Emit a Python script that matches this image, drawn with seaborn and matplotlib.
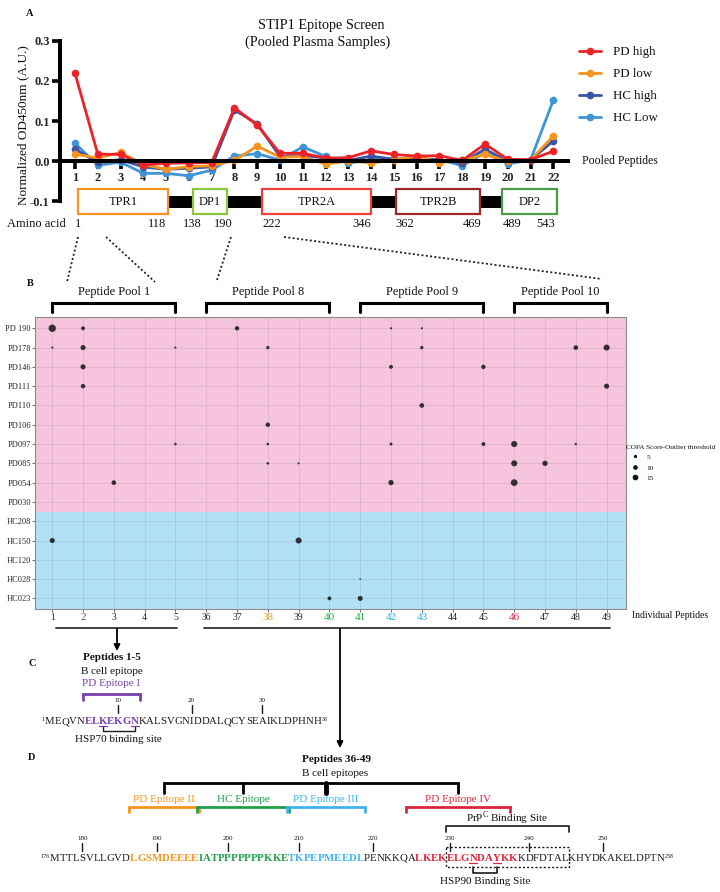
import numpy as np
import pandas as pd
import matplotlib
matplotlib.use("Agg")
import matplotlib.pyplot as plt
import matplotlib.transforms as mtransforms
from matplotlib.lines import Line2D
from matplotlib.patches import Rectangle
from matplotlib.font_manager import FontProperties, findfont
from matplotlib.ft2font import FT2Font
import seaborn as sns

try:
    from matplotlib.ft2font import LoadFlags
    NO_SCALE = LoadFlags.NO_SCALE
except ImportError:
    from matplotlib.ft2font import LOAD_NO_SCALE as NO_SCALE

sns.set_theme(style="ticks")
plt.rcParams['font.family'] = ['Liberation Serif', 'DejaVu Serif']
plt.rcParams['mathtext.fontset'] = 'custom'
plt.rcParams['mathtext.rm'] = 'Liberation Serif'
plt.rcParams['text.color'] = '#111111'

# ---------------- data: panel A (pooled peptides) ----------------
peptides_a = list(range(1, 23))
pd_high = [0.219, 0.018, 0.017, -0.009, -0.005, -0.004, -0.003, 0.133, 0.090, 0.020, 0.020,
           0.008, 0.009, 0.026, 0.017, 0.013, 0.014, 0.002, 0.043, 0.005, 0.004, 0.025]
pd_low = [0.018, 0.008, 0.022, -0.008, -0.020, -0.013, -0.011, 0.002, 0.038, 0.010, 0.012,
          -0.007, 0.001, -0.004, 0.003, 0.013, -0.003, 0.002, 0.017, 0.000, 0.003, 0.063]
hc_high = [0.030, -0.002, 0.004, -0.014, -0.020, -0.017, -0.014, 0.128, 0.093, 0.012, 0.015,
           0.008, 0.002, 0.013, 0.005, 0.008, 0.003, -0.003, 0.030, 0.000, 0.003, 0.051]
hc_low = [0.045, -0.010, -0.002, -0.030, -0.030, -0.036, -0.022, 0.013, 0.019, 0.003, 0.036,
          0.012, -0.005, 0.005, 0.003, 0.005, 0.005, -0.011, 0.021, -0.006, 0.003, 0.152]
groups_a = ['PD high', 'PD low', 'HC high', 'HC Low']
yticks_a = [-0.1, 0.0, 0.1, 0.2, 0.3]

domain_names = ['TPR1', 'DP1', 'TPR2A', 'TPR2B', 'DP2']
domain_colors = ['#f7931e', '#8dc63f', '#ef4136', '#a0262b', '#4a9d45']
aa_labels = ['1', '118', '138', '190', '222', '346', '362', '469', '489', '543']

# ---------------- data: panel B (individual peptides) ----------------
samples = ['PD 190', 'PD178', 'PD146', 'PD111', 'PD110', 'PD106', 'PD097', 'PD085', 'PD054',
           'PD030', 'HC208', 'HC150', 'HC120', 'HC028', 'HC023']
peptides_b = [1, 2, 3, 4, 5, 36, 37, 38, 39, 40, 41, 42, 43, 44, 45, 46, 47, 48, 49]
pools = ['Peptide Pool 1', 'Peptide Pool 8', 'Peptide Pool 9', 'Peptide Pool 10']
pool_members = [(1, 5), (36, 40), (41, 45), (46, 49)]

dot_sample = ['PD 190'] * 5 + ['PD178'] * 7 + ['PD146'] * 3 + ['PD111'] * 2 + ['PD110', 'PD106'] \
    + ['PD097'] * 6 + ['PD085'] * 4 + ['PD054'] * 3 + ['HC150'] * 2 + ['HC028'] + ['HC023'] * 2
dot_peptide = [1, 2, 37, 42, 43,
               1, 2, 5, 38, 43, 48, 49,
               2, 42, 45,
               2, 49,
               43, 38,
               5, 38, 42, 45, 46, 48,
               38, 39, 46, 47,
               3, 42, 46,
               1, 39,
               41,
               40, 41]
dot_score = [25, 7, 9, 2, 2,
             2, 12, 2, 5, 5, 10, 17,
             12, 7, 9,
             9, 12,
             10, 9,
             3, 3, 4, 7, 17, 2.5,
             3, 2, 17, 13,
             10, 13, 21,
             12, 17,
             1.3,
             7, 12]
legend_scores = [5, 10, 15]
tick_colors = {2: '#7b3fae', 38: '#f7941d', 40: '#22a94a', 41: '#22a94a',
               42: '#29abe2', 43: '#29abe2', 46: '#d7263d'}

# ---------------- data: panels C and D (sequences) ----------------
purple, orange, green, blue, red, ink = '#7b3fae', '#f7941d', '#1f9e49', '#3fb4ec', '#d9263a', '#1a1a1a'
seq_c = [("MEQVN", ink, 'normal'), ("ELKEKGN", purple, 'bold'),
         ("KALSVGNIDDALQCYSEAIKLDPHNH", ink, 'normal')]
seq_d = [("MTTLSVLLGVD", ink, 'normal'), ("LGSMDEEEE", orange, 'bold'),
         ("IATPPPPPPPKKE", green, 'bold'), ("TKPEPMEEDL", blue, 'bold'),
         ("PENKKQA", ink, 'normal'), ("LKEKELGNDAYKK", red, 'bold'),
         ("KDFDTALKHYDKAKELDPTN", ink, 'normal')]
epitopes_d = [('PD Epitope II', orange, 187, 195), ('HC Epitope', green, 196, 208),
              ('PD Epitope III', blue, 209, 218), ('PD Epitope IV', red, 225, 237)]

# ---------------- figure ----------------
W, H = 720, 892
fig = plt.figure(figsize=(7.2, 8.92), dpi=100)


def rect(x0, y0, x1, y1):
    return [x0 / W, 1 - y1 / H, (x1 - x0) / W, (y1 - y0) / H]


ax_a = fig.add_axes(rect(60, 40.7, 568, 201.5))
ax_b = fig.add_axes(rect(35, 317, 626, 609))
ov = fig.add_axes([0, 0, 1, 1], zorder=5)
ov.set_xlim(0, W)
ov.set_ylim(H, 0)
ov.axis('off')
ov.patch.set_visible(False)

# ---------------- panel A ----------------
dfa = pd.DataFrame({'peptide': peptides_a * 4,
                    'value': pd_high + pd_low + hc_high + hc_low,
                    'group': [g for g in groups_a for _ in peptides_a]})
pal_a = {'PD high': '#ec2227', 'PD low': '#f7941d', 'HC high': '#3a53a4', 'HC Low': '#3f95d6'}
sns.lineplot(data=dfa, x='peptide', y='value', hue='group',
             hue_order=['HC Low', 'HC high', 'PD low', 'PD high'], palette=pal_a,
             marker='o', markersize=5.5, markeredgewidth=0, linewidth=2.0,
             errorbar=None, legend=False, ax=ax_a)
ax_a.set_xlim(0.3415, 22.645)
ax_a.set_ylim(-0.1, 0.3)
ax_a.set_facecolor('none')
for s in ['top', 'right']:
    ax_a.spines[s].set_visible(False)
ax_a.spines['bottom'].set_position(('data', 0))
for s in ['left', 'bottom']:
    ax_a.spines[s].set_linewidth(2.9)
    ax_a.spines[s].set_color('black')
ax_a.set_xticks(peptides_a)
ax_a.set_xticklabels([str(p) for p in peptides_a], fontweight='bold', fontsize=9)
ax_a.set_yticks(yticks_a)
ax_a.set_yticklabels([f"{v:.1f}" for v in yticks_a], fontweight='bold', fontsize=9)
ax_a.tick_params(axis='both', direction='out', length=5.5, width=2.6, color='black', pad=2)
ax_a.set_xlabel('')
ax_a.set_ylabel('')

handles = [Line2D([0], [0], color=pal_a[g], marker='o', markersize=5.5, lw=2, mew=0) for g in groups_a]
ax_a.legend(handles, groups_a, loc='upper left', bbox_to_anchor=(579 / W, 1 - 46 / H),
            bbox_transform=fig.transFigure, frameon=False, fontsize=9.3, handlelength=1.7,
            handletextpad=0.9, labelspacing=0.78, borderpad=0, borderaxespad=0)

ov.text(321, 25, "STIP1 Epitope Screen", ha='center', va='center', fontsize=10.3)
ov.text(318, 42, "(Pooled Plasma Samples)", ha='center', va='center', fontsize=10.3)
ov.text(23, 125, "Normalized OD450nm (A.U.)", rotation=90, ha='center', va='center', fontsize=9.5)
ov.text(582, 161, "Pooled Peptides", ha='left', va='center', fontsize=8.5)
ov.text(30, 13, "A", ha='center', va='center', fontsize=7.5, weight='bold')

# domain map
box_px = [(78, 168), (193, 227), (262, 371), (396, 480), (502, 557)]
ov.add_patch(Rectangle((168, 196), 502 - 168, 12, color='black', lw=0, zorder=1))
for name, col, (x0, x1) in zip(domain_names, domain_colors, box_px):
    ov.add_patch(Rectangle((x0, 189), x1 - x0, 25, facecolor='white', edgecolor=col, lw=1.6, zorder=2))
    ov.text((x0 + x1) / 2, 202, name, ha='center', va='center', fontsize=9, zorder=3)
ov.text(7, 224, "Amino acid", ha='left', va='center', fontsize=9)
aa_px = [78, 157, 192, 223, 272, 362, 405, 472, 512, 546]
for lab, x in zip(aa_labels, aa_px):
    ov.text(x, 224, lab, ha='center', va='center', fontsize=9)

for (p0, p1) in [((78, 237), (67, 282)), ((106, 237), (155, 282)),
                 ((231, 237), (217, 280)), ((284, 237), (602, 279))]:
    ov.plot([p0[0], p1[0]], [p0[1], p1[1]], color='#222222', lw=1.3, ls=(0, (1.1, 1.3)))

# ---------------- panel B ----------------
n_pd = sum(s.startswith('PD') for s in samples)
dfb = pd.DataFrame({'xpos': [peptides_b.index(p) for p in dot_peptide],
                    'ypos': [samples.index(s) for s in dot_sample],
                    'score': dot_score})
ax_b.axhspan(-1, n_pd - 0.5, color='#f6c4dc', zorder=0, lw=0)
ax_b.axhspan(n_pd - 0.5, len(samples), color='#b2e1f7', zorder=0, lw=0)
size_norm = (0, 30)
size_range = (0, 33.6)
sns.scatterplot(data=dfb, x='xpos', y='ypos', size='score', sizes=size_range, size_norm=size_norm,
                color='#141414', alpha=0.85, linewidth=0, legend=False, ax=ax_b, zorder=3)
ax_b.set_xlim(-0.56, 18.63)
ax_b.set_ylim(14.55, -0.585)
ax_b.set_xticks(range(len(peptides_b)))
ax_b.set_xticklabels([str(p) for p in peptides_b], fontsize=7)
for lbl, p in zip(ax_b.get_xticklabels(), peptides_b):
    if p in tick_colors:
        lbl.set_color(tick_colors[p])
        lbl.set_fontsize(8)
ax_b.set_yticks(range(len(samples)))
ax_b.set_yticklabels(samples, fontsize=6)
ax_b.tick_params(length=2, width=0.6, color='#555555', pad=1)
ax_b.grid(True, color='#8a8a8a', alpha=0.3, lw=0.5)
for s in ax_b.spines.values():
    s.set_color('#8c8c8c')
    s.set_linewidth(0.8)
ax_b.set_xlabel('')
ax_b.set_ylabel('')


def area(v):
    return size_range[0] + (v - size_norm[0]) / (size_norm[1] - size_norm[0]) * (size_range[1] - size_range[0])


lh = [Line2D([0], [0], marker='o', ls='', color='#141414', markersize=np.sqrt(area(v)), mew=0)
      for v in legend_scores]
ax_b.legend(lh, [str(v) for v in legend_scores], title="COPA Score-Outlier threshold",
            loc='upper left', bbox_to_anchor=(626 / W, 1 - 445 / H), bbox_transform=fig.transFigure,
            frameon=False, fontsize=5.2, title_fontsize=5.2, alignment='left', handlelength=2.6,
            handletextpad=0.2, labelspacing=0.5, borderpad=0, borderaxespad=0, handleheight=1)

ov.text(632, 616, "Individual Peptides", ha='left', va='center', fontsize=7)
ov.text(30, 283, "B", ha='center', va='center', fontsize=7.5, weight='bold')

blend = mtransforms.blended_transform_factory(ax_b.transData, ov.transData)
for name, (p0, p1) in zip(pools, pool_members):
    x0, x1 = peptides_b.index(p0), peptides_b.index(p1)
    ov.plot([x0, x0, x1, x1], [312, 303, 303, 312], transform=blend, color='black', lw=2.2,
            solid_joinstyle='miter', clip_on=False)
    ov.text((x0 + x1) / 2, 292, name, transform=blend, ha='center', va='center', fontsize=8.8)

ov.plot([0.12, 4.05], [628, 628], transform=blend, color='#333333', lw=1.3, clip_on=False)
ov.plot([4.93, 18.1], [628, 628], transform=blend, color='#333333', lw=1.3, clip_on=False)
for x, ytip in [(117, 651), (340, 748)]:
    ov.annotate('', xy=(x, ytip), xytext=(x, 629),
                arrowprops=dict(arrowstyle='-|>', color='black', lw=1.3, shrinkA=0, shrinkB=0,
                                mutation_scale=9))

# ---------------- sequences ----------------
_fonts = {}


def advance_em(ch, wt):
    # advance width of one character, in em units, read from the font file
    if wt not in _fonts:
        f = FT2Font(findfont(FontProperties(family='Liberation Serif', weight=wt)))
        f.set_size(10, 72)
        _fonts[wt] = f
    f = _fonts[wt]
    g = f.load_char(ord(ch), flags=NO_SCALE)
    return g.horiAdvance / f.units_per_EM


def draw_sequence(segments, start, x0, base, width):
    total = sum(advance_em(ch, w) for t, c, w in segments for ch in t)
    em = width / total            # pixels per em
    fs = em * 72 / 100            # font size in points
    pos = {}
    x = x0
    n = start
    for t, c, w in segments:
        for ch in t:
            adv = advance_em(ch, w) * em
            ov.text(x, base, ch, fontsize=fs, color=c, weight=w, ha='left', va='baseline')
            pos[n] = (x, x + adv)
            x += adv
            n += 1
    cap = 0.66 * em
    ov.text(x0 - 0.6, base - cap, str(start), fontsize=fs * 0.55, ha='right', va='top')
    ov.text(x + 0.6, base - cap, str(n - 1), fontsize=fs * 0.55, ha='left', va='top')
    return pos


def mid(p):
    return (p[0] + p[1]) / 2


lab_fs = 8

# panel C
ov.text(32, 663, "C", ha='center', va='center', fontsize=7.5, weight='bold')
pos_c = draw_sequence(seq_c, 1, 45, 724, 276)
cxl, cxr = pos_c[6][0] - 1, pos_c[12][1] + 1
cc = (cxl + cxr) / 2
ov.plot([cxl, cxl, cxr, cxr], [700, 694, 694, 700], color=purple, lw=2, solid_joinstyle='miter')
ov.text(cc, 658, "Peptides 1-5", ha='center', va='center', fontsize=lab_fs, weight='bold')
ov.text(cc, 672, "B cell epitope", ha='center', va='center', fontsize=lab_fs)
ov.text(cc, 684, "PD Epitope I", ha='center', va='center', fontsize=lab_fs, color=purple)
for n in [10, 20, 30]:
    c = mid(pos_c[n])
    ov.plot([c, c], [705, 713], color=ink, lw=1)
    ov.text(c, 701, str(n), ha='center', va='center', fontsize=5)
for n in [8, 12]:
    ov.plot(list(pos_c[n]), [726, 726], color=purple, lw=0.9)
k8, n12 = mid(pos_c[8]), mid(pos_c[12])
ov.plot([k8, k8, n12, n12], [727, 731, 731, 727], color=ink, lw=1)
ov.text((k8 + n12) / 2, 739, "HSP70 binding site", ha='center', va='center', fontsize=lab_fs)

# panel D
ov.text(32, 758, "D", ha='center', va='center', fontsize=7.5, weight='bold')
ov.text(337, 759, "Peptides 36-49", ha='center', va='center', fontsize=lab_fs, weight='bold')
ov.text(335, 774, "B cell epitopes", ha='center', va='center', fontsize=lab_fs)
pos_d = draw_sequence(seq_d, 176, 50, 861, 614)
centers = []
for name, col, r0, r1 in epitopes_d:
    xl, xr = pos_d[r0][0] - 1, pos_d[r1][1] + 1
    ov.plot([xl, xl, xr, xr], [812, 807, 807, 812], color=col, lw=2, solid_joinstyle='miter')
    ov.text((xl + xr) / 2, 799, name, ha='center', va='center', fontsize=lab_fs, color=col)
    centers.append((xl + xr) / 2)
ov.plot([centers[0], centers[0], centers[-1], centers[-1]], [793, 783, 783, 793], color='black',
        lw=2, solid_joinstyle='miter')
ov.plot([centers[1], centers[1]], [783, 793], color='black', lw=2)
ov.plot([centers[2], centers[2]], [783, 793], color='black', lw=3.5)
for n in range(180, 251, 10):
    c = mid(pos_d[n])
    ov.plot([c, c], [843, 851], color=ink, lw=1)
    ov.text(c, 838, str(n), ha='center', va='center', fontsize=5)
for n in [233, 236]:
    ov.plot(list(pos_d[n]), [863, 863], color=red, lw=0.9)
pl, pr = pos_d[230][0] - 1, pos_d[245][1] + 1
ov.add_patch(Rectangle((pl, 847), pr - pl, 20, fill=False, edgecolor=ink, lw=1, ls=(0, (1.5, 1.5))))
ov.plot([pl, pl, pr, pr], [832, 826, 826, 832], color=ink, lw=1.2)
ov.text((pl + pr) / 2, 818, r"PrP$^{\mathrm{C}}$ Binding Site", ha='center', va='center', fontsize=lab_fs)
a233, a236 = mid(pos_d[233]), mid(pos_d[236])
ov.plot([a233, a233, a236, a236], [867, 873, 873, 867], color=ink, lw=1.2)
ov.text((a233 + a236) / 2, 881, "HSP90 Binding Site", ha='center', va='center', fontsize=lab_fs)

fig.savefig("out.png", dpi=100)
